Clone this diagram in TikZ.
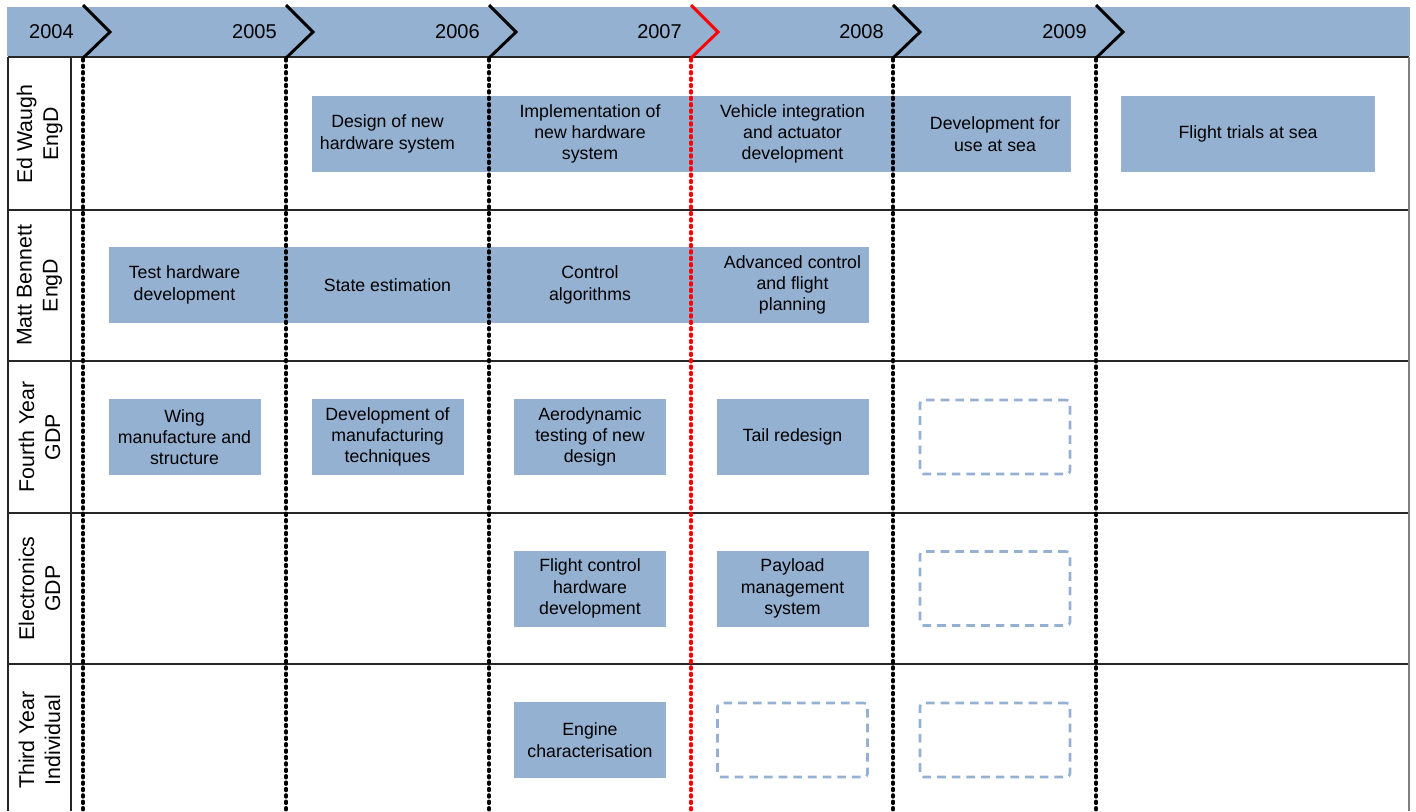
\documentclass[tikz,border=0pt]{standalone}
\usepackage{fontspec}
\setmainfont{Liberation Sans}
\usetikzlibrary{backgrounds}
\definecolor{barblue}{RGB}{149,177,210}

\tikzset{every picture/.style={line width=0.75pt}}
\tikzset{
  task/.style={fill=barblue, minimum width=114pt, minimum height=57pt, inner sep=0pt, outer sep=0pt, align=center, font=\fontsize{13.3}{16}\selectfont},
  spare/.style={draw=barblue, line width=1.9pt, dash pattern=on 6.5pt off 4.5pt, rounded corners=2.5pt, minimum width=112.5pt, minimum height=55.5pt, inner sep=0pt},
  yearmark/.style={line width=2.2pt, line join=miter},
  yeardiv/.style={line width=2.7pt, line cap=round, dash pattern=on 1.4pt off 3.4pt},
  yearlbl/.style={anchor=east, inner sep=0pt, font=\fontsize{15}{18}\selectfont},
  rowlbl/.style={rotate=90, align=center, inner sep=0pt, font=\fontsize{16}{19.5}\selectfont},
  gridline/.style={draw=black!85, line width=1.1pt}
}

\begin{document}
\begin{tikzpicture}[x=0.75pt,y=0.75pt,yscale=-1,xscale=1]
\useasboundingbox (0,0) rectangle (1416,811);

%Shape: Rectangle [header band]
\fill [barblue] (7,7) rectangle (1410,56) ;

%Straight Lines [table grid]
\draw [gridline] (8,57) -- (1409,57) ;
\draw [gridline] (8,210) -- (1409,210) ;
\draw [gridline] (8,361) -- (1409,361) ;
\draw [gridline] (8,513) -- (1409,513) ;
\draw [gridline] (8,664) -- (1409,664) ;
\draw [gridline] (8,57) -- (8,811) ;
\draw [gridline] (71,57) -- (71,811) ;
\draw [draw=gray, line width=1.4pt] (1409,57) -- (1409,811) ;

% Text Node [row labels]
\node (lblEW) [rowlbl] at (39.5,134) {Ed Waugh\\EngD};
\node (lblMB) [rowlbl] at (39.5,285.5) {Matt Bennett\\EngD};
\node (lblFY) [rowlbl] at (39.5,437) {Fourth Year\\GDP};
\node (lblEL) [rowlbl] at (39.5,588.5) {Electronics\\GDP};
\node (lblTY) [rowlbl] at (39.5,740) {Third Year\\Individual};

%Shape: Rectangle [Ed Waugh tasks]
\node (ew1) [task] at (387.5,134) {Design of new\\hardware system};
\node (ew2) [task] at (590,134) {Implementation of\\new hardware\\system};
\node (ew3) [task] at (792.5,134) {Vehicle integration\\and actuator\\development};
\node (ew4) [task] at (995,134) {Development for\\use at sea};
\node (ew5) [task, minimum width=190.5pt] at (1248,134) {Flight trials at sea};

%Shape: Rectangle [Matt Bennett tasks]
\node (mb1) [task] at (184.5,285) {Test hardware\\development};
\node (mb2) [task] at (387.5,285) {State estimation};
\node (mb3) [task] at (590,285) {Control\\algorithms};
\node (mb4) [task] at (792.5,285) {Advanced control\\and flight\\planning};

\begin{pgfonlayer}{background}
\fill [barblue] (ew1.north west) rectangle (ew4.south east) ;
\fill [barblue] (mb1.north west) rectangle (mb4.south east) ;
\end{pgfonlayer}

%Shape: Rectangle [Fourth Year GDP tasks]
\node (fy1) [task] at (184.5,437) {Wing\\manufacture and\\structure};
\node (fy2) [task] at (387.5,437) {Development of\\manufacturing\\techniques};
\node (fy3) [task] at (590,437) {Aerodynamic\\testing of new\\design};
\node (fy4) [task] at (792.5,437) {Tail redesign};
\node (fy5) [spare] at (995,437) {};

%Shape: Rectangle [Electronics GDP tasks]
\node (el1) [task] at (590,588.5) {Flight control\\hardware\\development};
\node (el2) [task] at (792.5,588.5) {Payload\\management\\system};
\node (el3) [spare] at (995,588.5) {};

%Shape: Rectangle [Third Year Individual tasks]
\node (ty1) [task] at (590,740) {Engine\\characterisation};
\node (ty2) [spare] at (792.5,740) {};
\node (ty3) [spare] at (995,740) {};

%Straight Lines [year markers]
\draw [yearmark] (83,5) -- (110,32) -- (83,58) ;
\draw [yeardiv] (83,59) -- (83,811) ;
\draw [yearmark] (286,5) -- (313,32) -- (286,58) ;
\draw [yeardiv] (286,59) -- (286,811) ;
\draw [yearmark] (489,5) -- (516,32) -- (489,58) ;
\draw [yeardiv] (489,59) -- (489,811) ;
\draw [yearmark, red] (691,5) -- (718,32) -- (691,58) ;
\draw [yeardiv, red] (691,59) -- (691,811) ;
\draw [yearmark] (893,5) -- (920,32) -- (893,58) ;
\draw [yeardiv] (893,59) -- (893,811) ;
\draw [yearmark] (1096,5) -- (1123,32) -- (1096,58) ;
\draw [yeardiv] (1096,59) -- (1096,811) ;

% Text Node [years]
\node (y2004) [yearlbl] at (74,32) {2004};
\node (y2005) [yearlbl] at (277,32) {2005};
\node (y2006) [yearlbl] at (480,32) {2006};
\node (y2007) [yearlbl] at (682,32) {2007};
\node (y2008) [yearlbl] at (884,32) {2008};
\node (y2009) [yearlbl] at (1087,32) {2009};

\end{tikzpicture}
\end{document}
